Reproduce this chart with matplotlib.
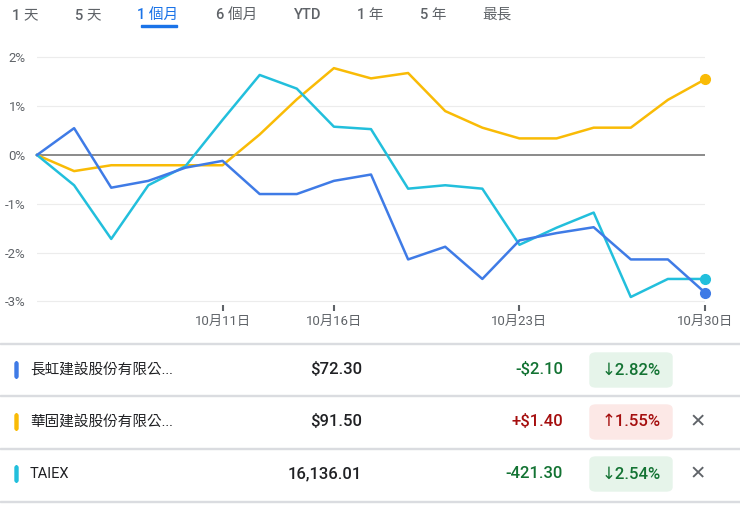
import matplotlib
matplotlib.use("Agg")
import matplotlib.pyplot as plt
from matplotlib.patches import FancyBboxPatch, Rectangle

plt.rcParams['font.family'] = ['Roboto', 'Noto Sans CJK TC', 'DejaVu Sans']

tabs = ["1 天", "5 天", "1 個月", "6 個月", "YTD", "1 年", "5 年", "最長"]
tab_x = [25, 88, 158, 237, 308, 370, 433, 497]
xtick_idx = [5, 8, 13, 18]
xtick_labels = ["10月11日", "10月16日", "10月23日", "10月30日"]
yticks = [2, 1, 0, -1, -2, -3]

changhong = [0, 0.55, -0.67, -0.53, -0.26, -0.12, -0.8, -0.8, -0.53, -0.4,
             -2.14, -1.88, -2.54, -1.75, -1.6, -1.48, -2.14, -2.14, -2.82]
huagu = [0, -0.33, -0.21, -0.21, -0.21, -0.21, 0.42, 1.14, 1.78, 1.57,
         1.68, 0.9, 0.56, 0.34, 0.34, 0.56, 0.56, 1.13, 1.55]
taiex = [0, -0.62, -1.72, -0.62, -0.23, 0.72, 1.64, 1.36, 0.58, 0.53,
         -0.69, -0.62, -0.69, -1.84, -1.49, -1.18, -2.91, -2.54, -2.54]

names = ["長虹建設股份有限公...", "華固建設股份有限公...", "TAIEX"]
prices = ["$72.30", "$91.50", "16,136.01"]
changes = ["-$2.10", "+$1.40", "-421.30"]
pcts = ["↓2.82%", "↑1.55%", "↓2.54%"]
colors = ["#3f7be6", "#f9bb06", "#22bfdc"]
up = [False, True, False]
closable = [False, True, True]

W, H = 740, 508
fig = plt.figure(figsize=(7.4, 5.08), dpi=100)

def fx(x): return x / W
def fy(y): return 1 - y / H

for t, x in zip(tabs, tab_x):
    c = "#1a73e8" if t == "1 個月" else "#5f6368"
    fig.text(fx(x), fy(15), t, ha="center", va="center", fontsize=10.5, color=c, weight="medium")
fig.add_artist(Rectangle((fx(141), fy(27)), fx(36), 2.5 / H, color="#1a73e8", transform=fig.transFigure))

top, bot = 50, 305
ax = fig.add_axes([fx(37), fy(bot), fx(705 - 37), (bot - top) / H])
y0, ppp = 155, 48.8
ax.set_ylim((y0 - bot) / ppp, (y0 - top) / ppp)
ax.set_xlim(0, 18)
for s in ax.spines.values():
    s.set_visible(False)
for v in yticks:
    if v == 0:
        ax.axhline(0, color="#777777", lw=1.2, zorder=1)
    else:
        ax.axhline(v, color="#ececec", lw=0.8, zorder=0)
xs = list(range(len(taiex)))
for ser, c in [(huagu, colors[1]), (taiex, colors[2]), (changhong, colors[0])]:
    ax.plot(xs, ser, color=c, lw=1.8, zorder=3, clip_on=False)
    ax.plot([xs[-1]], [ser[-1]], "o", color=c, ms=7, zorder=4, clip_on=False)
ax.set_yticks(yticks)
ax.set_yticklabels([f"{v}%" for v in yticks])
ax.tick_params(axis="y", length=0, labelsize=9.5, labelcolor="#5f6368", pad=8)
ax.set_xticks(xtick_idx)
ax.set_xticklabels(xtick_labels)
ax.tick_params(axis="x", length=4, width=1.5, color="#5f6368", labelsize=9.5, labelcolor="#5f6368", pad=3)

row_y = [370, 422, 474]
seps = [344, 396, 449, 502]
for s in seps:
    fig.add_artist(Rectangle((0, fy(s)), 1, 1 / H, color="#dadce0", transform=fig.transFigure))
for i, y in enumerate(row_y):
    fig.add_artist(FancyBboxPatch((fx(15), fy(y + 8)), fx(3), 16 / H,
                                  boxstyle="round,pad=0,rounding_size=0.003",
                                  color=colors[i], transform=fig.transFigure))
    fig.text(fx(30), fy(y), names[i], ha="left", va="center", fontsize=10.5, color="#202124")
    fig.text(fx(362), fy(y), prices[i], ha="right", va="center", fontsize=12, color="#202124", weight="medium")
    cc = "#a50e0e" if up[i] else "#137333"
    bg = "#fce8e6" if up[i] else "#e6f4ea"
    fig.text(fx(563), fy(y), changes[i], ha="right", va="center", fontsize=12, color=cc, weight="medium")
    fig.add_artist(FancyBboxPatch((fx(590), fy(y + 17)), fx(82), 34 / H,
                                  boxstyle="round,pad=0,rounding_size=0.008",
                                  color=bg, transform=fig.transFigure))
    fig.text(fx(631), fy(y), pcts[i], ha="center", va="center", fontsize=12, color=cc,
             weight="medium", family=["Roboto", "DejaVu Sans"])
    if closable[i]:
        fig.text(fx(698), fy(y), "✕", ha="center", va="center", fontsize=14,
                 color="#5f6368", family="DejaVu Sans")

fig.savefig("out.png", dpi=100)
